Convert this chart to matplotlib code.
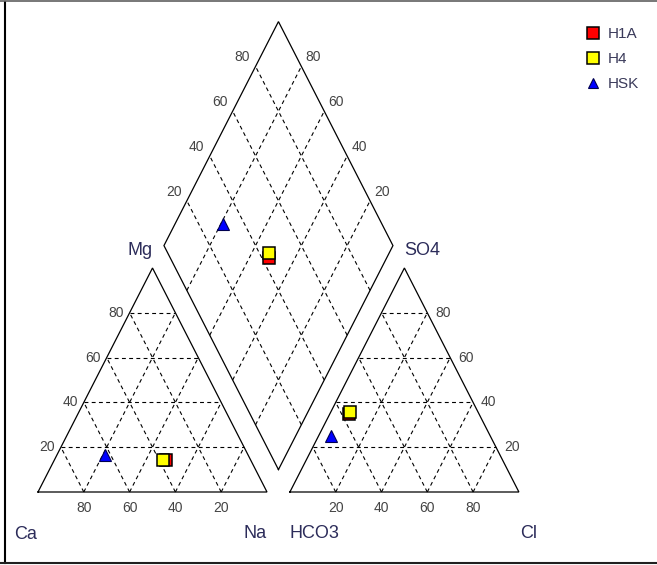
import matplotlib
matplotlib.use("Agg")
import matplotlib.pyplot as plt
from matplotlib.lines import Line2D
from matplotlib.transforms import offset_copy
import numpy as np

plt.rcParams['font.family'] = ['Liberation Sans', 'DejaVu Sans']

# ---------------- data (percent of meq) ----------------
samples = ['H1A', 'H4', 'HSK']
ca   = [36.9, 38.2, 62.5]
mg   = [14.3, 14.3, 16.5]
na   = [48.8, 47.5, 21.0]
hco3 = [56.8, 55.9, 69.3]
so4  = [34.8, 35.8, 25.2]
cl   = [ 8.4,  8.3,  5.5]
face_colors = ['#ff0000', '#ffff00', '#0000ff']
markers = ['s', 's', '^']
grid_levels = [20, 40, 60, 80]

# ---------------- geometry ----------------
G = 0.1  # gap between triangles (in side units); triangle height = 1 in y units


def cation_xy(c, m, n):
    s = c + m + n
    m, n = m / s, n / s
    return n + m / 2.0, m


def anion_xy(h, s4, c):
    s = h + s4 + c
    s4, c = s4 / s, c / s
    return 1 + G + c + s4 / 2.0, s4


def diamond_xy(n_frac, h_frac):
    t = 2 + G - h_frac - n_frac
    return n_frac + t / 2.0, t


W, H = 657, 565
fig = plt.figure(figsize=(W / 100, H / 100), dpi=100)
ax = fig.add_axes([0, 0, 1, 1])
ax.set_xlim(-38 / 229, (W - 38) / 229)
ax.set_ylim(-(H - 492) / 224, 492 / 224)
ax.axis('off')

edge_kw = dict(color='black', lw=0.9, solid_joinstyle='miter', zorder=2)
grid_kw = dict(color='black', lw=0.8, linestyle=(0, (3.5, 3)), zorder=1)

# left triangle
ax.plot([0, 1, 0.5, 0], [0, 0, 1, 0], **edge_kw)
# right triangle
x0 = 1 + G
ax.plot([x0, x0 + 1, x0 + 0.5, x0], [0, 0, 1, 0], **edge_kw)
# diamond
B = np.array([1 + G / 2, G])
L = B + np.array([-0.5, 1.0])
R = B + np.array([0.5, 1.0])
T = B + np.array([0.0, 2.0])
dpts = np.array([B, L, T, R, B])
ax.plot(dpts[:, 0], dpts[:, 1], **edge_kw)

for lv in grid_levels:
    p = lv / 100.0
    # cation triangle
    ax.plot([p / 2, 1 - p / 2], [p, p], **grid_kw)
    ax.plot([p, p + (1 - p) / 2], [0, 1 - p], **grid_kw)
    ax.plot([1 - p, (1 - p) / 2], [0, 1 - p], **grid_kw)
    # anion triangle
    ax.plot([x0 + p / 2, x0 + 1 - p / 2], [p, p], **grid_kw)
    ax.plot([x0 + p, x0 + p + (1 - p) / 2], [0, 1 - p], **grid_kw)
    ax.plot([x0 + 1 - p, x0 + (1 - p) / 2], [0, 1 - p], **grid_kw)
    # diamond
    a0 = B + p * (L - B)
    a1 = a0 + (R - B)
    ax.plot([a0[0], a1[0]], [a0[1], a1[1]], **grid_kw)
    b0 = B + p * (R - B)
    b1 = b0 + (L - B)
    ax.plot([b0[0], b1[0]], [b0[1], b1[1]], **grid_kw)

# ---------------- tick labels ----------------
tick_col = '#444444'
tfs = 10


def off(dx, dy):
    return offset_copy(ax.transData, fig=fig, x=dx, y=dy, units='dots')


for lv in grid_levels:
    p = lv / 100.0
    # left triangle, Mg along left edge
    ax.text(p / 2, p, str(lv), transform=off(-6, 0), ha='right', va='center',
            fontsize=tfs, color=tick_col)
    # left triangle base, Ca
    ax.text(1 - p, 0, str(lv), transform=off(0, -16), ha='center', va='center',
            fontsize=tfs, color=tick_col)
    # right triangle, SO4 along right edge
    ax.text(x0 + 1 - p / 2, p, str(lv), transform=off(8, 0), ha='left', va='center',
            fontsize=tfs, color=tick_col)
    # right triangle base, Cl
    ax.text(x0 + p, 0, str(lv), transform=off(0, -16), ha='center', va='center',
            fontsize=tfs, color=tick_col)
    # diamond upper-left edge
    q = L + p * (T - L)
    ax.text(q[0], q[1], str(lv), transform=off(-13, 9), ha='center', va='center',
            fontsize=tfs, color=tick_col)
    # diamond upper-right edge
    q = R + p * (T - R)
    ax.text(q[0], q[1], str(lv), transform=off(12, 9), ha='center', va='center',
            fontsize=tfs, color=tick_col)

# ---------------- corner labels ----------------
lab_col = '#2c2c5a'
lfs = 13
ax.text(0.5, 1, 'Mg', transform=off(0, 13), ha='right', va='baseline', fontsize=lfs, color=lab_col)
ax.text(x0 + 0.5, 1, 'SO4', transform=off(0, 13), ha='left', va='baseline', fontsize=lfs, color=lab_col)
ax.text(0, 0, 'Ca', transform=off(-24, -47), ha='left', va='baseline', fontsize=lfs, color=lab_col)
ax.text(1, 0, 'Na', transform=off(0, -46), ha='right', va='baseline', fontsize=lfs, color=lab_col)
ax.text(x0, 0, 'HCO3', transform=off(0, -46), ha='left', va='baseline', fontsize=lfs, color=lab_col)
ax.text(x0 + 1, 0, 'Cl', transform=off(1, -46), ha='left', va='baseline', fontsize=lfs, color=lab_col)

# ---------------- samples ----------------
handles = []
for i, name in enumerate(samples):
    cx, cy = cation_xy(ca[i], mg[i], na[i])
    axx, axy = anion_xy(hco3[i], so4[i], cl[i])
    n_frac = na[i] / (ca[i] + mg[i] + na[i])
    h_frac = hco3[i] / (hco3[i] + so4[i] + cl[i])
    dx, dy = diamond_xy(n_frac, h_frac)
    if markers[i] == 's':
        kw = dict(marker='s', ms=9, mfc=face_colors[i], mec='black', mew=1.1)
    else:
        kw = dict(marker='^', ms=8, mfc=face_colors[i], mec='#000050', mew=0.8)
    ax.plot([cx, axx, dx], [cy, axy, dy], linestyle='none', zorder=5 + i, **kw)
    lkw = dict(kw)
    lkw['ms'] = kw['ms'] - 1
    handles.append(Line2D([], [], linestyle='none', label=name, **lkw))

leg = fig.legend(handles=handles, loc='upper left',
                 bbox_to_anchor=(585 / W, 1 - 27 / H), bbox_transform=fig.transFigure,
                 frameon=False, fontsize=11, handlelength=1.0, handletextpad=0.5,
                 borderpad=0, borderaxespad=0, labelspacing=0.72)
for t in leg.get_texts():
    t.set_color('#3a3a5a')

# ---------------- frame ----------------
fig.add_artist(Line2D([5 / W, 5 / W], [1 - 2 / H, 2.5 / H], transform=fig.transFigure,
                      color='black', lw=1.5))
fig.add_artist(Line2D([0, 1], [2.5 / H, 2.5 / H], transform=fig.transFigure,
                      color='#202020', lw=1.5))
fig.add_artist(Line2D([0, 1], [1 - 0.8 / H, 1 - 0.8 / H], transform=fig.transFigure,
                      color='#606060', lw=1.2))

fig.savefig('out.png', dpi=100)
